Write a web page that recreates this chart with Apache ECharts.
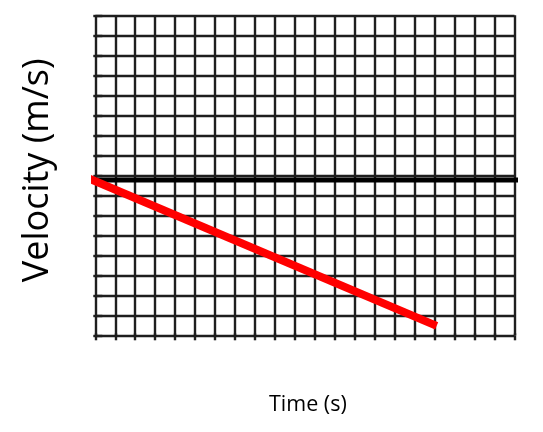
<!DOCTYPE html>
<html><head><meta charset="utf-8">
<script src="https://cdn.jsdelivr.net/npm/echarts@6/dist/echarts.min.js"></script>
<style>html,body{margin:0;padding:0;background:#fff}#c{width:543px;height:432px}</style>
</head><body><div id="c"></div>
<script>
// Grid: 21 columns x 16 rows
const xMin = 0, xMax = 21;
const yMin = 0, yMax = 16;
// black zero-velocity line
const zeroLineX = [-0.4, 22.25];
const zeroLineY = [7.77, 7.77];
// red velocity line
const velX = [-0.45, 17.1];
const velY = [7.9, 0.47];
const xTitle = 'Time (s)';
const yTitle = 'Velocity (m/s)';

const chart = echarts.init(document.getElementById('c'), null, {renderer: 'canvas'});
const gridLine = {show: true, lineStyle: {color: '#1e1e1e', width: 2.4}};
chart.setOption({
  animation: false,
  grid: {left: 95.3, right: 543 - 514.5, top: 15.3, bottom: 432 - 335.3},
  xAxis: [{
    type: 'value', min: xMin, max: xMax, interval: 1,
    axisLine: {show: false}, axisLabel: {show: false},
    axisTick: {show: true, length: 5, lineStyle: {color: '#1e1e1e', width: 2.4}},
    splitLine: gridLine,
    name: xTitle, nameLocation: 'middle', nameGap: 59,
    nameTextStyle: {fontFamily: 'Open Sans', fontSize: 21.5, color: '#000', padding: [0, 0, 0, 6]}
  }, {
    type: 'value', position: 'top', min: xMin, max: xMax, interval: 1,
    axisLine: {show: false}, axisLabel: {show: false},
    axisTick: {show: true, length: 2, lineStyle: {color: '#1e1e1e', width: 2.4}},
    splitLine: {show: false}
  }],
  yAxis: [{
    type: 'value', min: yMin, max: yMax, interval: 1,
    axisLine: {show: false}, axisLabel: {show: false},
    axisTick: {show: true, length: 2, lineStyle: {color: '#1e1e1e', width: 2.4}},
    splitLine: gridLine,
    name: yTitle, nameLocation: 'middle', nameGap: 40, nameRotate: 90,
    nameTextStyle: {fontFamily: 'Open Sans', fontSize: 36, color: '#000', padding: [0, 0, 0, 10]}
  }, {
    type: 'value', position: 'right', min: yMin, max: yMax, interval: 1,
    axisLine: {show: false}, axisLabel: {show: false},
    axisTick: {show: true, length: 7, lineStyle: {color: '#1e1e1e', width: 2.4}},
    splitLine: {show: false}
  }],
  series: [{
    type: 'line', clip: false, symbol: 'none',
    data: zeroLineX.map((x, i) => [x, zeroLineY[i]]),
    lineStyle: {color: '#000', width: 5, cap: 'butt'}
  }, {
    type: 'line', clip: false, symbol: 'none',
    data: velX.map((x, i) => [x, velY[i]]),
    lineStyle: {color: '#ff0000', width: 8, cap: 'butt'}
  }]
});
</script></body></html>
